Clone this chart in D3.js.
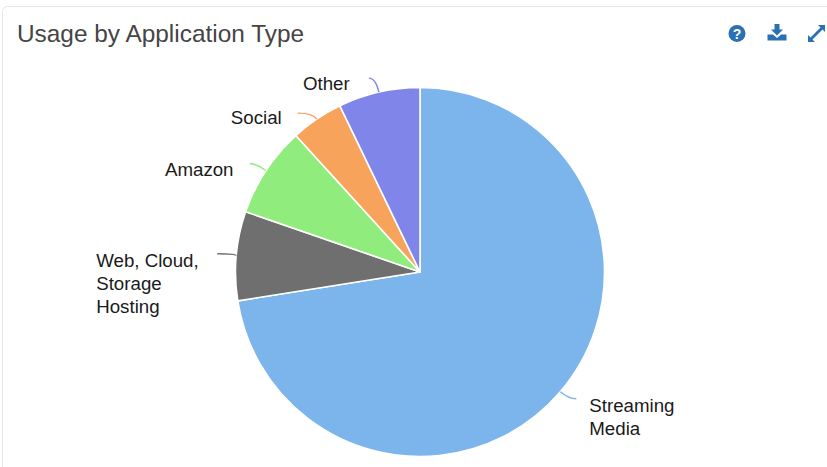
<!DOCTYPE html>
<html>
<head>
<meta charset="utf-8">
<script src="https://cdn.jsdelivr.net/npm/d3@7/dist/d3.min.js"></script>
<style>
  html, body { margin: 0; padding: 0; background: #fff; overflow: hidden; }
  svg { display: block; font-family: "Liberation Sans", Arial, sans-serif; }
</style>
</head>
<body>
<svg id="chart" width="827" height="467"></svg>
<script>
// Share of traffic per application type, clockwise from twelve o'clock
const categories = ["Streaming Media", "Web, Cloud, Storage Hosting", "Amazon", "Social", "Other"];
const shares = [72.5, 7.8, 7.95, 4.6, 7.15];
const colors = ["#7cb5ec", "#6f6f6f", "#90ed7d", "#f7a35c", "#8085e9"];
const labelLines = [["Streaming", "Media"], ["Web, Cloud,", "Storage", "Hosting"], ["Amazon"], ["Social"], ["Other"]];

// Label placement relative to the pie edge at each slice's middle angle
const labelOffsets = [[29, 20], [-140, 11], [-101, 6], [-86, 5], [-76, -2]];
const connectorEnds = [[16, 7], [-19, -2], [-16, -7], [-19, -6], [-10, -14]];

const width = 827, height = 467;
const cx = 420, cy = 272, radius = 184.5;
const svg = d3.select("#chart");

// Panel outline, running off the right and bottom of the view
svg.append("rect")
  .attr("x", 2.5).attr("y", 6.5)
  .attr("width", width + 20).attr("height", height + 20)
  .attr("rx", 5)
  .attr("fill", "#fff").attr("stroke", "#e6e6e6");

svg.append("text")
  .attr("x", 17).attr("y", 41.5)
  .attr("font-size", 24.4)
  .attr("fill", "#454545")
  .text("Usage by Application Type");

// Toolbar icons
const iconColor = "#2b70b2";
const help = svg.append("g").attr("transform", "translate(737,33.5)");
help.append("circle").attr("r", 8.5).attr("fill", iconColor);
help.append("text").attr("text-anchor", "middle").attr("y", 5)
  .attr("font-size", 14).attr("font-weight", "bold").attr("fill", "#fff").text("?");

svg.append("path")
  .attr("transform", "translate(777,32)")
  .attr("fill", iconColor)
  .attr("d", "M-2.5,-8H2.5V-2.5H6L0,3.5L-6,-2.5H-2.5Z M-9.5,2.5H-4L0,6L4,2.5H9.5V8.5H-9.5Z");

svg.append("path")
  .attr("transform", "translate(816.5,33.5)")
  .attr("fill", iconColor)
  .attr("d", "M1.5,-8.5H8.5V-1.5L6,-4L-1,3L-3,1L4,-6Z M-1.5,8.5H-8.5V1.5L-6,4L1,-3L3,-1L-4,6Z");

// Pie slices
const pie = d3.pie().sort(null).value(d => d)(shares);
const arc = d3.arc().innerRadius(0).outerRadius(radius);
const plot = svg.append("g");

plot.selectAll("path.slice")
  .data(pie)
  .join("path")
  .attr("class", "slice")
  .attr("transform", `translate(${cx},${cy})`)
  .attr("d", arc)
  .attr("fill", (d, i) => colors[i])
  .attr("stroke", "#fff")
  .attr("stroke-width", 1.6)
  .attr("stroke-linejoin", "round");

// Point on a circle around the pie centre at a slice's middle angle
const edgePoint = (d, r) => {
  const a = (d.startAngle + d.endAngle) / 2;
  return [cx + r * Math.sin(a), cy - r * Math.cos(a)];
};

// Curved connectors leave the slice radially and finish level with the label
plot.selectAll("path.connector")
  .data(pie)
  .join("path")
  .attr("class", "connector")
  .attr("fill", "none")
  .attr("stroke-width", 1.4)
  .attr("stroke", (d, i) => colors[i])
  .attr("d", (d, i) => {
    const [x0, y0] = edgePoint(d, radius);
    const x1 = x0 + connectorEnds[i][0], y1 = y0 + connectorEnds[i][1];
    const a = (d.startAngle + d.endAngle) / 2;
    const leg = Math.abs(Math.cos(a)) > 0.2 ? (y1 - y0) / -Math.cos(a) : 0;
    const p = d3.path();
    p.moveTo(x0, y0);
    p.quadraticCurveTo(x0 + leg * Math.sin(a), y1, x1, y1);
    return p.toString();
  });

// Slice labels, one text line per row
const labels = plot.selectAll("text.label")
  .data(pie)
  .join("text")
  .attr("class", "label")
  .attr("font-size", 18.7)
  .attr("fill", "#1a1a1a")
  .attr("transform", (d, i) => {
    const [x, y] = edgePoint(d, radius);
    return `translate(${x + labelOffsets[i][0]},${y + labelOffsets[i][1]})`;
  });

labels.selectAll("tspan")
  .data((d, i) => labelLines[i])
  .join("tspan")
  .attr("x", 0)
  .attr("dy", (d, j) => j === 0 ? 0 : 23)
  .text(d => d);
</script>
</body>
</html>
